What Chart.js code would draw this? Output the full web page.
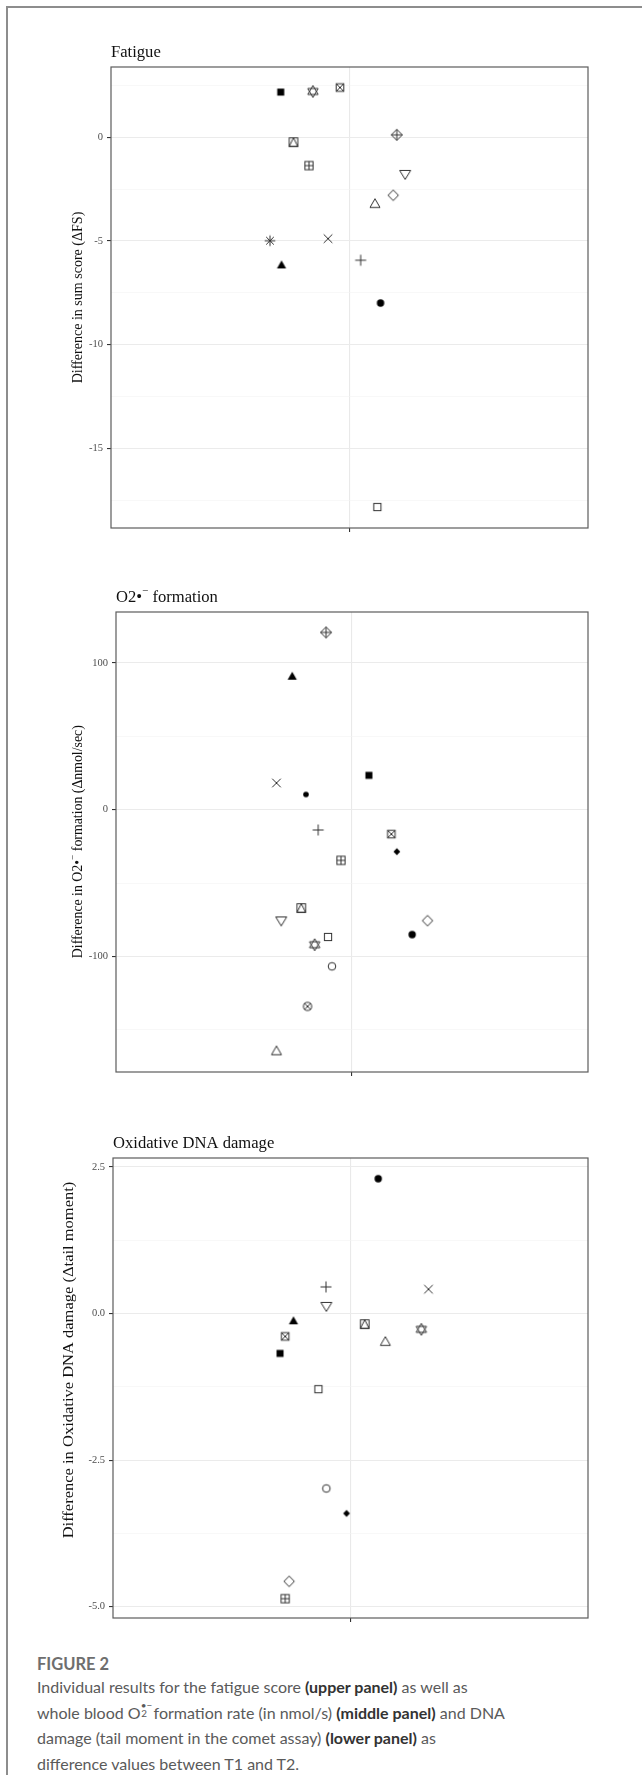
<!DOCTYPE html>
<html><head><meta charset="utf-8">
<script src="https://cdn.jsdelivr.net/npm/chart.js@4.4.1/dist/chart.umd.min.js"></script>
<style>
html,body{margin:0;padding:0;background:#fff;width:642px;height:1775px;overflow:hidden;position:relative;}
.frame{position:absolute;left:6px;top:6px;width:700px;height:1800px;border-left:2px solid #8d8d8d;border-top:2px solid #8d8d8d;}
canvas.p{position:absolute;left:0;}
.fig{position:absolute;left:37px;font-family:Lato,"Open Sans",sans-serif;font-size:16.5px;line-height:18px;color:#6e6e6e;font-weight:700;white-space:nowrap;}
.cap{position:absolute;left:37px;font-family:Lato,"Open Sans",sans-serif;font-size:16px;line-height:25.6px;color:#5a5a5a;font-weight:400;white-space:nowrap;}
.cap b{color:#333;font-weight:700;}
.ss{display:inline-block;position:relative;width:0.55em;height:1em;}
.ss .sp{position:absolute;left:0;top:-0.12em;font-size:0.62em;line-height:1;}
.ss .sb{position:absolute;left:0.05em;top:0.66em;font-size:0.62em;line-height:1;}
</style></head><body>
<div class="frame"></div>
<canvas class="p" id="c1"></canvas>
<canvas class="p" id="c2"></canvas>
<canvas class="p" id="c3"></canvas>
<div class="fig" style="top:1655px">FIGURE 2</div>
<div class="cap" style="top:1674px">Individual results for the fatigue score <b>(upper panel)</b> as well as</div>
<div class="cap" style="top:1699.6px">whole blood O<span class="ss"><span class="sp">•−</span><span class="sb">2</span></span> formation rate (in nmol/s) <b>(middle panel)</b> and DNA</div>
<div class="cap" style="top:1725.2px">damage (tail moment in the comet assay) <b>(lower panel)</b> as</div>
<div class="cap" style="top:1750.8px">difference values between T1 and T2.</div>
<script>
// ---------- DATA ----------
// Panel 1: Fatigue (difference in sum score, ΔFS)
const fatigueShapes = ['filledSquare','starOfDavid','squareCross','diamondPlus','squareTriangle','squarePlus','triangleDown','diamond','triangle','asterisk','cross','filledTriangle','plus','filledCircle','square'];
const fatigueX = [0.827,0.908,0.976,1.119,0.859,0.898,1.14,1.11,1.064,0.80,0.946,0.829,1.028,1.078,1.07];
const fatigueY = [2.17,2.2,2.39,0.11,-0.24,-1.37,-1.82,-2.8,-3.18,-4.99,-4.89,-6.13,-5.93,-7.99,-17.82];
const fatigueTicks = [2.5,0,-2.5,-5,-7.5,-10,-12.5,-15,-17.5];
const fatigueTickLabels = ['', '0', '', '-5', '', '-10', '', '-15', ''];

// Panel 2: O2•− formation (Δnmol/sec)
const o2Shapes = ['diamondPlus','filledTriangle','cross','smallDot','filledSquare','plus','squareCross','filledDiamond','squarePlus','squareTriangle','triangleDown','diamond','square','filledCircle','starOfDavid','circle','circleCross','triangle'];
const o2X = [0.934,0.848,0.808,0.883,1.043,0.914,1.10,1.114,0.972,0.871,0.82,1.192,0.939,1.153,0.905,0.949,0.887,0.808];
const o2Y = [120.8,91.3,18.2,10.4,23.4,-13.8,-16.6,-28.6,-34.5,-67,-76.1,-75.6,-86.7,-85.1,-92,-106.7,-134,-164];
const o2Ticks = [50,100,0,-50,-100,-150];
const o2TickLabels = ['', '100', '0', '', '-100', ''];

// Panel 3: Oxidative DNA damage (Δtail moment)
const dnaShapes = ['filledCircle','plus','cross','triangleDown','filledTriangle','squareTriangle','starOfDavid','squareCross','triangle','filledSquare','square','circle','filledDiamond','diamond','squarePlus'];
const dnaX = [1.07,0.938,1.197,0.939,0.856,1.036,1.179,0.835,1.088,0.822,0.919,0.939,0.99,0.845,0.835];
const dnaY = [2.30,0.455,0.415,0.113,-0.115,-0.18,-0.27,-0.39,-0.47,-0.68,-1.29,-2.985,-3.41,-4.57,-4.865];
const dnaTicks = [2.5,1.25,0,-1.25,-2.5,-3.75,-5];
const dnaTickLabels = ['2.5', '', '0.0', '', '-2.5', '', '-5.0'];

// ---------- SHAPES (R pch-like point glyphs) ----------
function mk(draw){
  const c=document.createElement('canvas'); c.width=18; c.height=18;
  const g=c.getContext('2d'); g.translate(9,9);
  g.strokeStyle='#303030'; g.fillStyle='#000'; g.lineWidth=1; g.lineJoin='miter';
  draw(g); return c;
}
function poly(g,pts,fill){g.beginPath();pts.forEach((p,i)=>i?g.lineTo(p[0],p[1]):g.moveTo(p[0],p[1]));g.closePath();fill?g.fill():g.stroke();}
function seg(g,a,b,c,d){g.beginPath();g.moveTo(a,b);g.lineTo(c,d);g.stroke();}
const SH = {
  square: mk(g=>g.strokeRect(-3.6,-3.6,7.2,7.2)),
  circle: mk(g=>{g.beginPath();g.arc(0,0,3.8,0,Math.PI*2);g.stroke();}),
  triangle: mk(g=>poly(g,[[0,-4.4],[5,4.3],[-5,4.3]])),
  triangleDown: mk(g=>poly(g,[[0,4.5],[5.5,-4.5],[-5.5,-4.5]])),
  plus: mk(g=>{seg(g,-5.5,0,5.5,0);seg(g,0,-5.5,0,5.5);}),
  cross: mk(g=>{seg(g,-4.3,-4.3,4.3,4.3);seg(g,-4.3,4.3,4.3,-4.3);}),
  diamond: mk(g=>poly(g,[[0,-5.3],[5.2,0],[0,5.3],[-5.2,0]])),
  squareCross: mk(g=>{g.strokeRect(-3.8,-3.8,7.6,7.6);seg(g,-3.8,-3.8,3.8,3.8);seg(g,-3.8,3.8,3.8,-3.8);}),
  asterisk: mk(g=>{seg(g,-5.3,0,5.3,0);seg(g,0,-5.3,0,5.3);seg(g,-3.8,-3.8,3.8,3.8);seg(g,-3.8,3.8,3.8,-3.8);}),
  diamondPlus: mk(g=>{poly(g,[[0,-5.5],[5.5,0],[0,5.5],[-5.5,0]]);seg(g,-5.5,0,5.5,0);seg(g,0,-5.5,0,5.5);}),
  starOfDavid: mk(g=>{poly(g,[[0,-6],[5.2,3],[-5.2,3]]);poly(g,[[0,6],[5.2,-3],[-5.2,-3]]);}),
  squarePlus: mk(g=>{g.strokeRect(-4.1,-4.1,8.2,8.2);seg(g,-4.1,0,4.1,0);seg(g,0,-4.1,0,4.1);}),
  circleCross: mk(g=>{g.beginPath();g.arc(0,0,4.1,0,Math.PI*2);g.stroke();seg(g,-2.9,-2.9,2.9,2.9);seg(g,-2.9,2.9,2.9,-2.9);}),
  squareTriangle: mk(g=>{g.strokeRect(-4.3,-4.3,8.6,8.6);poly(g,[[0,-4.3],[4.3,4.3],[-4.3,4.3]]);}),
  filledSquare: mk(g=>g.fillRect(-3.5,-3.5,7,7)),
  filledCircle: mk(g=>{g.beginPath();g.arc(0,0,3.7,0,Math.PI*2);g.fill();}),
  filledTriangle: mk(g=>poly(g,[[0,-4.1],[4.6,4],[-4.6,4]],true)),
  filledDiamond: mk(g=>poly(g,[[0,-3.4],[3.4,0],[0,3.4],[-3.4,0]],true)),
  smallDot: mk(g=>{g.beginPath();g.arc(0,0,2.8,0,Math.PI*2);g.fill();})
};

// ---------- PANELS ----------
const SERIF='"Liberation Serif","DejaVu Serif",serif';
function richW(ctx,parts){let w=0;for(const p of parts){ctx.font=p.f;w+=ctx.measureText(p.t).width;}return w;}
function drawRich(ctx,parts,x,y){let cx=x;for(const p of parts){ctx.font=p.f;ctx.fillText(p.t,cx,y+(p.dy||0));cx+=ctx.measureText(p.t).width;}}

function makePanel(cfg){
  const cv=document.getElementById(cfg.id);
  const top=cfg.plot.top-45, H=cfg.plot.bottom-cfg.plot.top+60;
  cv.width=642; cv.height=H; cv.style.width='642px'; cv.style.height=H+'px'; cv.style.top=top+'px';
  const labelOf=new Map(cfg.ticks.map((v,i)=>[v,cfg.labels[i]]));
  const isMajor=v=>(labelOf.get(v)||'')!=='';
  const deco={
    id:'deco'+cfg.id,
    afterDraw(chart){
      const ctx=chart.ctx, a=chart.chartArea;
      ctx.save();
      ctx.strokeStyle='#5c5c5c'; ctx.lineWidth=1.2;
      ctx.strokeRect(a.left,a.top,a.right-a.left,a.bottom-a.top);
      ctx.fillStyle='#111'; ctx.textBaseline='alphabetic'; ctx.textAlign='left';
      drawRich(ctx,cfg.title,a.left,a.top-10.5);
      const w=richW(ctx,cfg.ylab);
      const s=cfg.ylabLen? cfg.ylabLen/w : 1;
      ctx.translate(a.left-cfg.ylabDx,(a.top+a.bottom)/2+cfg.ylabDy);
      ctx.rotate(-Math.PI/2); ctx.scale(s,1);
      drawRich(ctx,cfg.ylab,-w/2,0);
      ctx.restore();
    }
  };
  new Chart(cv,{
    type:'scatter',
    data:{datasets:[{
      data:cfg.x.map((x,i)=>({x:x,y:cfg.y[i]})),
      pointStyle:c=>SH[cfg.shapes[c.dataIndex]],
      pointRadius:5,pointHoverRadius:5,showLine:false
    }]},
    options:{
      responsive:false,animation:false,events:[],
      layout:{padding:{top:45,left:0,right:642-cfg.plot.right,bottom:5}},
      plugins:{legend:{display:false},tooltip:{enabled:false}},
      scales:{
        x:{type:'linear',min:0.4,max:1.6,
          afterBuildTicks:s=>{s.ticks=[{value:1}];},
          afterFit:s=>{s.height=10;},
          ticks:{callback:()=>'',padding:0},
          grid:{color:'#e9e9e9',lineWidth:1.1,tickLength:4,tickColor:'#333',drawTicks:true},
          border:{display:false}},
        y:{type:'linear',min:cfg.min,max:cfg.max,
          afterBuildTicks:s=>{s.ticks=cfg.ticks.map(v=>({value:v}));},
          afterFit:s=>{s.width=cfg.plot.left;},
          ticks:{autoSkip:false,callback:v=>labelOf.get(v)||'',padding:4,color:'#4d4d4d',font:{family:SERIF,size:10.5}},
          grid:{color:c=>isMajor(c.tick.value)?'#ebebeb':'#f4f4f4',
                lineWidth:c=>isMajor(c.tick.value)?1.1:0.6,
                tickLength:4,tickColor:c=>isMajor(c.tick.value)?'#333':'rgba(0,0,0,0)'},
          border:{display:false}}
      }
    },
    plugins:[deco]
  });
}

const TF='16.6px '+SERIF, TS='11px '+SERIF, LF='14px '+SERIF, LS='9.5px '+SERIF;
makePanel({id:'c1',plot:{left:111,top:67,right:588,bottom:528},min:-18.83,max:3.38,
  x:fatigueX,y:fatigueY,shapes:fatigueShapes,ticks:fatigueTicks,labels:fatigueTickLabels,
  title:[{t:'Fatigue',f:TF}],
  ylab:[{t:'Difference in sum score (ΔFS)',f:LF}],ylabDx:29,ylabDy:0,ylabLen:171.7});
makePanel({id:'c2',plot:{left:116,top:612,right:588,bottom:1072},min:-178.7,max:134.7,
  x:o2X,y:o2Y,shapes:o2Shapes,ticks:o2Ticks,labels:o2TickLabels,
  title:[{t:'O2•',f:TF},{t:'−',f:TS,dy:-8},{t:' formation',f:TF}],
  ylab:[{t:'Difference in O2•',f:LF},{t:'−',f:LS,dy:-6.5},{t:' formation (Δnmol/sec)',f:LF}],ylabDx:34,ylabDy:-0.3,ylabLen:233});
makePanel({id:'c3',plot:{left:113,top:1158,right:588,bottom:1618},min:-5.195,max:2.654,
  x:dnaX,y:dnaY,shapes:dnaShapes,ticks:dnaTicks,labels:dnaTickLabels,
  title:[{t:'Oxidative DNA damage',f:TF}],
  ylab:[{t:'Difference in Oxidative DNA damage (Δtail moment)',f:LF}],ylabDx:40.5,ylabDy:-28,ylabLen:356.7});
</script>
</body></html>
